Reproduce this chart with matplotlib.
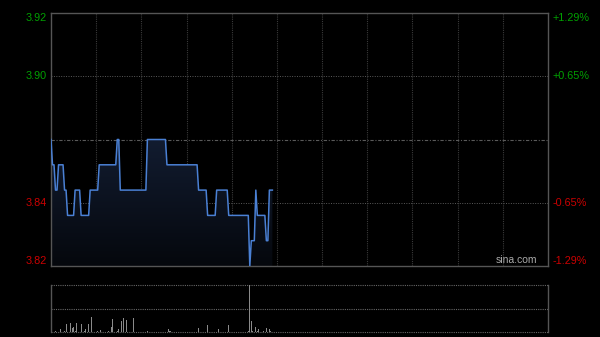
import matplotlib
matplotlib.use('AGG')
import matplotlib.pyplot as plt
import numpy as np
from matplotlib import rcParams

rcParams['font.family'] = ['Liberation Sans', 'DejaVu Sans']

filename = "out"

# intraday minute data (HK session, 330 minutes), morning only so far
prev_close = 3.87
price_range = 0.05
price = [3.87, 3.86, 3.86, 3.85, 3.85, 3.86, 3.86, 3.86, 3.86, 3.85,
         3.85, 3.84, 3.84, 3.84, 3.84, 3.84, 3.85, 3.85, 3.85, 3.85,
         3.84, 3.84, 3.84, 3.84, 3.84, 3.84, 3.85, 3.85, 3.85, 3.85,
         3.85, 3.85, 3.86, 3.86, 3.86, 3.86, 3.86, 3.86, 3.86, 3.86,
         3.86, 3.86, 3.86, 3.86, 3.87, 3.87, 3.85, 3.85, 3.85, 3.85,
         3.85, 3.85, 3.85, 3.85, 3.85, 3.85, 3.85, 3.85, 3.85, 3.85,
         3.85, 3.85, 3.85, 3.85, 3.87, 3.87, 3.87, 3.87, 3.87, 3.87,
         3.87, 3.87, 3.87, 3.87, 3.87, 3.87, 3.87, 3.86, 3.86, 3.86,
         3.86, 3.86, 3.86, 3.86, 3.86, 3.86, 3.86, 3.86, 3.86, 3.86,
         3.86, 3.86, 3.86, 3.86, 3.86, 3.86, 3.86, 3.86, 3.85, 3.85,
         3.85, 3.85, 3.85, 3.85, 3.84, 3.84, 3.84, 3.84, 3.84, 3.84,
         3.85, 3.85, 3.85, 3.85, 3.85, 3.85, 3.85, 3.85, 3.84, 3.84,
         3.84, 3.84, 3.84, 3.84, 3.84, 3.84, 3.84, 3.84, 3.84, 3.84,
         3.84, 3.84, 3.82, 3.83, 3.83, 3.83, 3.85, 3.84, 3.84, 3.84,
         3.84, 3.84, 3.84, 3.83, 3.83, 3.85, 3.85, 3.85]
volume = [6, 4, 5, 10, 4, 3, 33, 5, 4, 6,
          80, 5, 4, 90, 37, 50, 6, 90, 4, 5,
          80, 4, 6, 27, 5, 80, 4, 147, 5, 3,
          4, 6, 3, 23, 4, 5, 3, 4, 6, 5,
          50, 130, 4, 5, 6, 33, 4, 110, 137, 5,
          120, 4, 3, 5, 4, 137, 3, 4, 2, 3,
          4, 2, 3, 5, 15, 3, 2, 4, 3, 2,
          3, 2, 4, 3, 2, 3, 4, 5, 27, 15,
          3, 2, 4, 3, 2, 3, 2, 4, 3, 2,
          3, 4, 2, 3, 5, 3, 2, 4, 43, 5,
          3, 4, 2, 5, 70, 4, 3, 2, 4, 3,
          4, 33, 3, 2, 4, 3, 5, 4, 70, 5,
          3, 2, 4, 3, 5, 2, 3, 4, 2, 3,
          5, 6, 470, 110, 8, 5, 47, 6, 27, 5,
          4, 6, 5, 43, 4, 33, 10, 5]
left_labels = ["3.92", "3.90", "3.84", "3.82"]
right_labels = ["+1.29%", "+0.65%", "-0.65%", "-1.29%"]
total_minutes = 330

green = '#00a000'
red = '#cc0000'
frame = '#555555'
gridc = '#3a3a3a'

fig = plt.figure(figsize=(6.0, 3.37), dpi=100, facecolor='black')
ax = fig.add_axes([51/600, 71/337, 497/600, 253/337], facecolor='black')
axv = fig.add_axes([51/600, 5/337, 497/600, 47/337], facecolor='black')

t = np.arange(len(price))
lo, hi = prev_close - price_range, prev_close + price_range

# gradient fill under the price line
poly = ax.fill_between(t, price, lo, color='none', lw=0)
grad = np.linspace(0, 1, 256).reshape(-1, 1)
cols = np.zeros((256, 1, 3))
top_c = np.array([0.07, 0.11, 0.19])
bot_c = np.array([0.02, 0.03, 0.05])
cols[:, 0, :] = top_c * (1 - grad) + bot_c * grad
im = ax.imshow(cols, extent=[0, len(price) - 1, lo, max(price)], aspect='auto',
               origin='upper', zorder=1)
im.set_clip_path(poly.get_paths()[0], transform=ax.transData)

ax.plot(t, price, color='#4a80d4', lw=1.1, zorder=3)

ax.set_xlim(0, total_minutes)
ax.set_ylim(lo, hi)
ax.set_xticks([])
ax.set_yticks([])
for s in ax.spines.values():
    s.set_color(frame)
    s.set_linewidth(1.0)

# grid
for m in range(30, total_minutes, 30):
    ax.axvline(m, color=gridc, lw=0.8, ls=(0, (1, 1)), zorder=0)
q = price_range / 2
for y in [prev_close + q, prev_close - q]:
    ax.axhline(y, color='#5a5a5a', lw=0.7, ls=(0, (1, 1.5)), zorder=0)
ax.axhline(prev_close, color='#5a5a5a', lw=0.8, ls=(0, (3, 1.5, 1, 1.5)), zorder=0)

levels = [hi, prev_close + q, prev_close - q, lo]
vas = ['top', 'center', 'center', 'bottom']
for i, y in enumerate(levels):
    c = green if y > prev_close else red
    ax.annotate(left_labels[i], xy=(0, y), xycoords=('axes fraction', 'data'),
                xytext=(-3, 0), textcoords='offset points', ha='right', va=vas[i],
                color=c, fontsize=7.8)
    ax.annotate(right_labels[i], xy=(1, y), xycoords=('axes fraction', 'data'),
                xytext=(3.5, 0), textcoords='offset points', ha='left', va=vas[i],
                color=c, fontsize=7.8)

ax.text(0.978, 0.022, 'sina.com', transform=ax.transAxes, ha='right', va='center',
        color='#aaaaaa', fontsize=7.5)

# volume panel
vmax = max(volume)
axv.bar(t, volume, width=0.7, color='#8a8a8a', lw=0)
axv.set_xlim(0, total_minutes)
axv.set_ylim(0, vmax)
axv.set_xticks([])
axv.set_yticks([])
for k in ['top', 'bottom']:
    axv.spines[k].set_visible(False)
for k in ['left', 'right']:
    axv.spines[k].set_color(frame)
    axv.spines[k].set_linewidth(1.0)
for y in [0, vmax / 2, vmax]:
    axv.axhline(y, color='#666666', lw=0.8, ls=(0, (1, 1)), zorder=0, clip_on=False)

plt.savefig(filename + ".png", dpi=100, facecolor='black')
